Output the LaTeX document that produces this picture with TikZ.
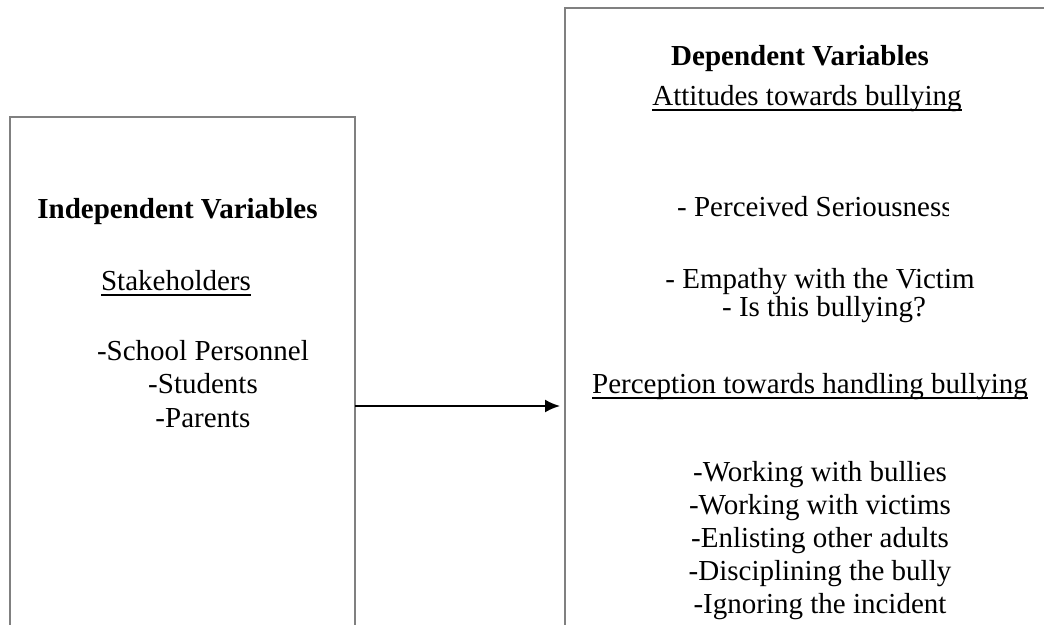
\documentclass[tikz,border=0pt]{standalone}
\usepackage{fontspec}
\setmainfont{Liberation Serif}
\usetikzlibrary{arrows.meta}
\newsavebox\ulbox
\newcommand\myul[1]{\sbox\ulbox{#1}\rlap{\rule[-6pt]{\wd\ulbox}{1.8pt}}\usebox\ulbox}
\tikzset{
  varbox/.style={draw=black!50, line width=2.7pt, rectangle, inner sep=0pt, outer sep=0pt, anchor=north west},
  txt/.style={font=\fontsize{29pt}{33pt}\selectfont, inner sep=0pt, anchor=base, text=black},
  hd/.style={txt, font=\fontsize{29pt}{33pt}\selectfont\bfseries},
  link/.style={line width=2pt, -{Latex[length=15pt,width=13pt]}}
}
\begin{document}
\begin{tikzpicture}[x=1pt,y=-1pt]
\useasboundingbox (0,0) rectangle (1044,624);
\clip (0,0) rectangle (1044,624);
% boxes
\node[varbox, minimum width=345pt, minimum height=600pt] (lbox) at (10,117) {};
\node[varbox, minimum width=520pt, minimum height=700pt] (rbox) at (565,8) {};
% left texts
\node[hd] (iv) at (177.5,218) {Independent Variables};
\node[txt] (sh) at (176,290) {\myul{Stakeholders}};
\node[txt] (sp) at (203,360) {-School Personnel};
\node[txt] (st) at (203,393) {-Students};
\node[txt] (pa) at (203,427) {-Parents};
% right texts
\node[hd] (dv) at (800,65) {Dependent Variables};
\node[txt] (at) at (807,105) {\myul{Attitudes towards bullying}};
\begin{scope}
\clip (600,170) rectangle (948,240);
\node[txt, anchor=base west] (ps) at (677,216) {- Perceived Seriousness};
\end{scope}
\node[txt] (em) at (820,288) {- Empathy with the Victim};
\node[txt] (ib) at (824,316) {- Is this bullying?};
\node[txt] (pe) at (810,393) {\myul{Perception towards handling bullying}};
\node[txt] (w1) at (820,481) {-Working with bullies};
\node[txt] (w2) at (820,514) {-Working with victims};
\node[txt] (w3) at (820,547) {-Enlisting other adults};
\node[txt] (w4) at (820,580) {-Disciplining the bully};
\node[txt] (w5) at (820,613) {-Ignoring the incident};
% connector
\coordinate (ay) at (0,406);
\draw[link] (lbox.east |- ay) -- ([xshift=-5pt]rbox.west |- ay);
\end{tikzpicture}
\end{document}
